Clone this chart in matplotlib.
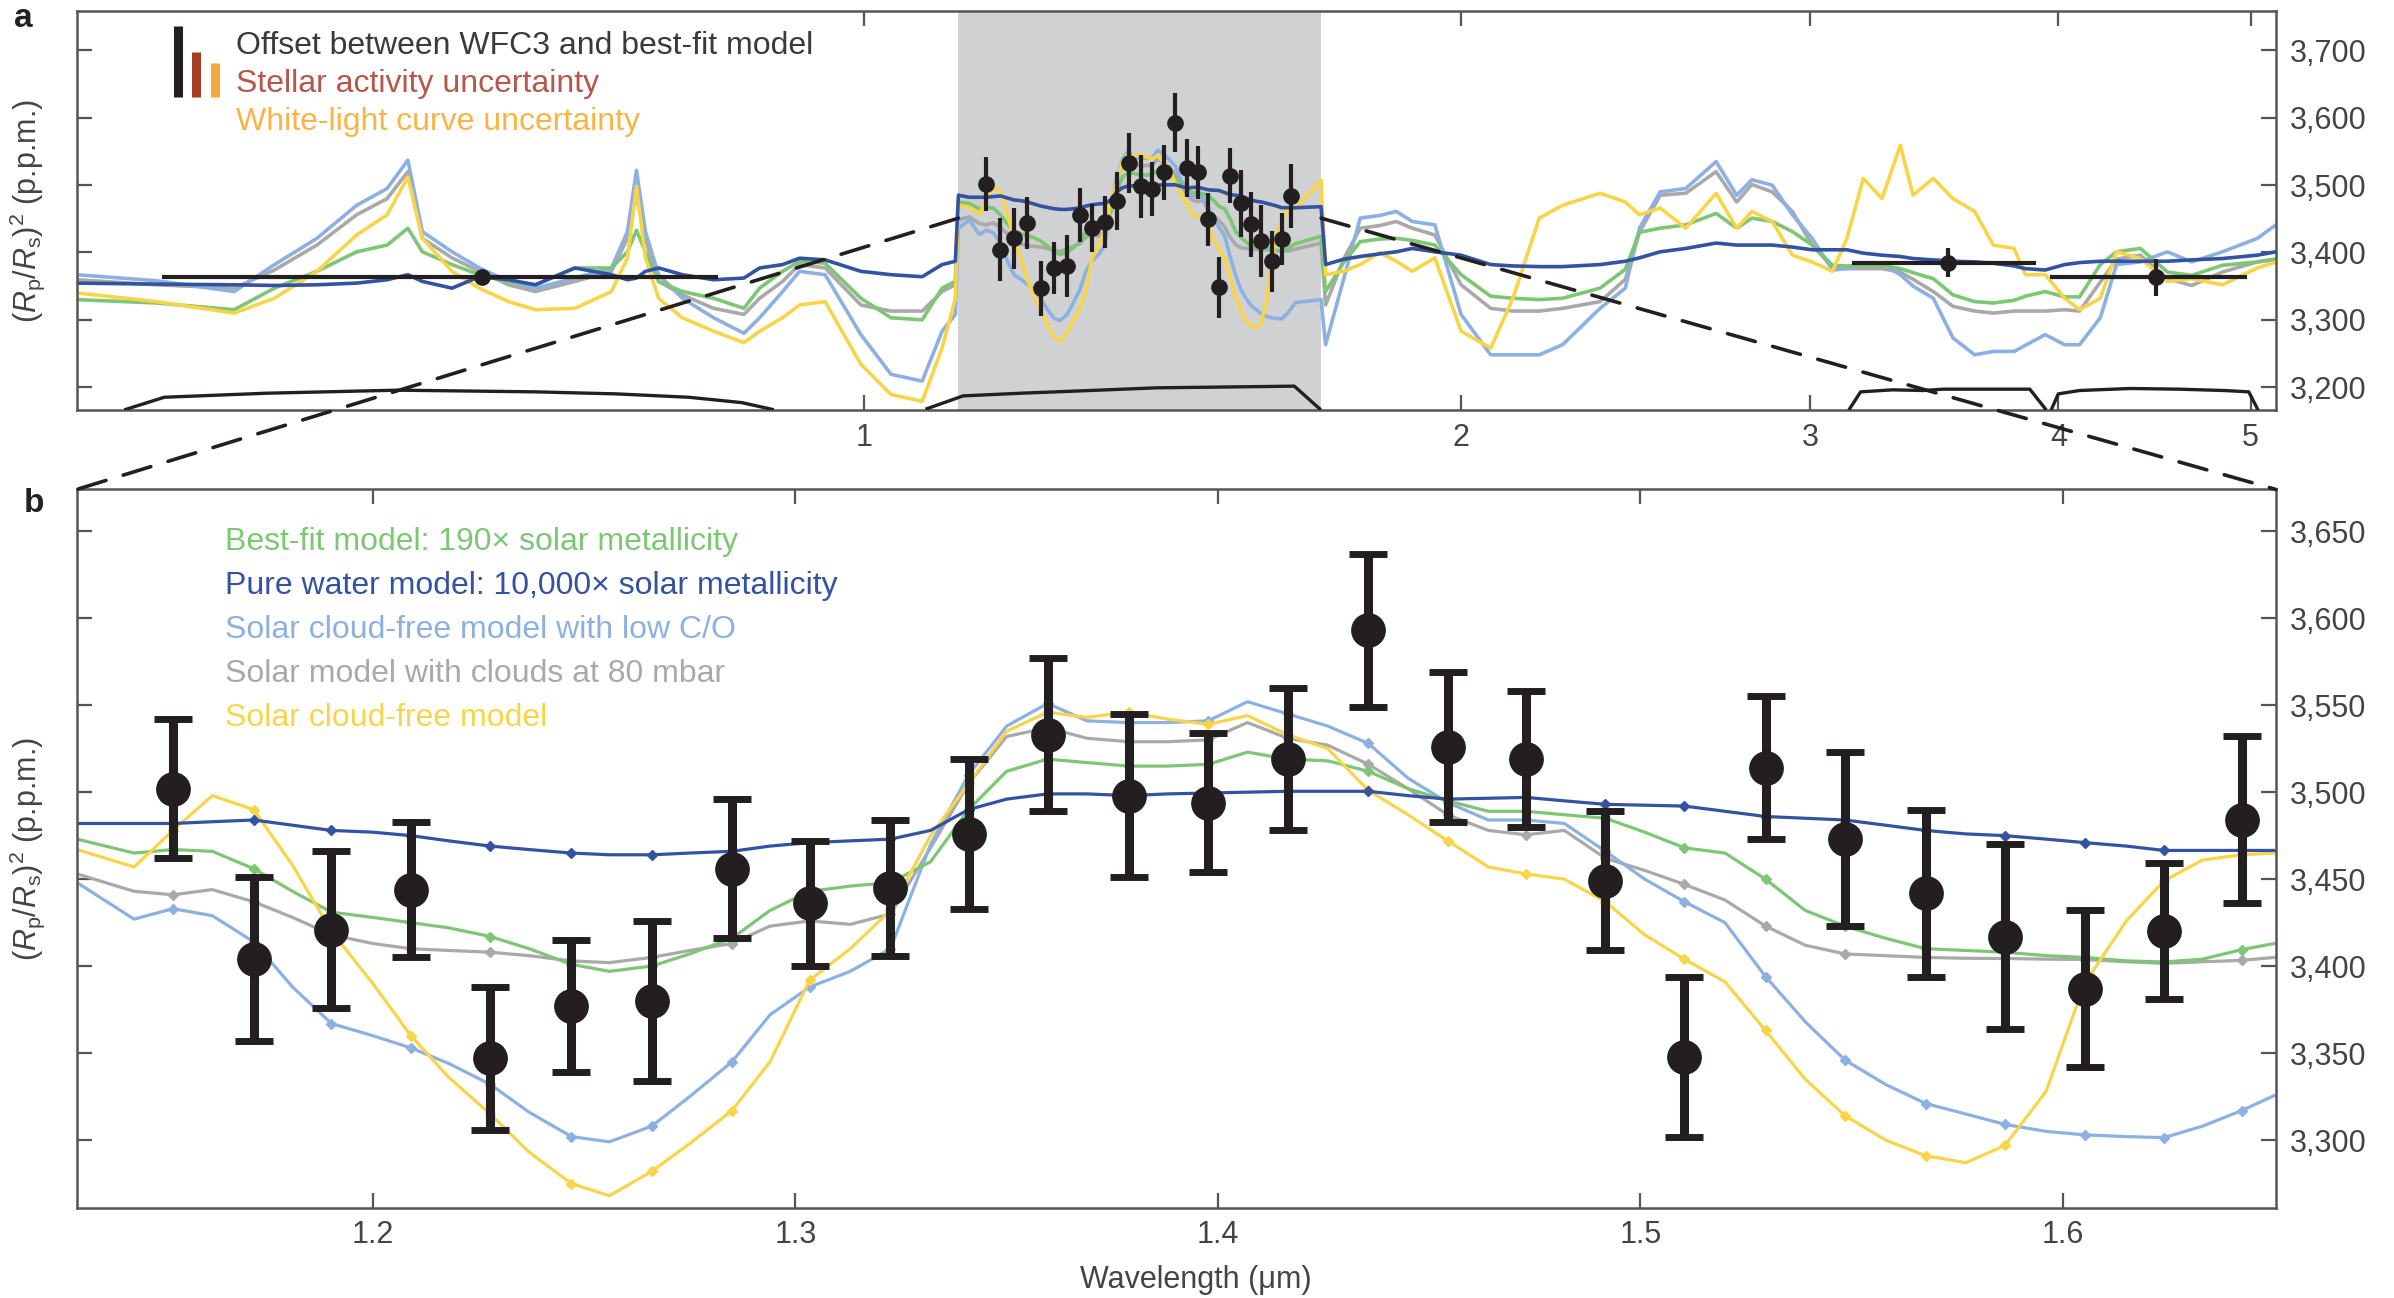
import numpy as np
import matplotlib
matplotlib.use('Agg')
import matplotlib.pyplot as plt
from matplotlib.patches import ConnectionPatch
from matplotlib.ticker import NullLocator

plt.rcParams['font.family'] = ['Liberation Sans', 'DejaVu Sans']
plt.rcParams['mathtext.fontset'] = 'custom'
plt.rcParams['mathtext.rm'] = 'Liberation Sans'
plt.rcParams['mathtext.it'] = 'Liberation Sans:italic'
plt.rcParams['mathtext.bf'] = 'Liberation Sans:bold'

# ---------------- data: WFC3 transmission spectrum ----------------
wfc3_lam = [1.1527, 1.1718, 1.1902, 1.2090, 1.2278, 1.2470, 1.2660, 1.2850, 1.3034,
            1.3225, 1.3410, 1.3597, 1.3789, 1.3977, 1.4165, 1.4356, 1.4544, 1.4729,
            1.4917, 1.5104, 1.5296, 1.5484, 1.5675, 1.5863, 1.6051, 1.6239, 1.6423]
wfc3_val = [3502, 3404, 3421, 3444, 3347, 3377, 3380, 3456, 3436, 3445, 3476, 3533,
            3498, 3494, 3519, 3593, 3526, 3519, 3449, 3348, 3514, 3473, 3442, 3417,
            3387, 3420, 3484]
wfc3_err = [40, 47, 45, 39, 41, 38, 46, 40, 36, 39, 43, 44, 47, 40, 41, 44, 43, 39,
            40, 46, 41, 50, 48, 53, 45, 39, 48]

# photometric points (STIS white light, Spitzer 3.6, Spitzer 4.5)
phot_lam = [0.642, 3.52, 4.48]
phot_val = [3364, 3385, 3363]
phot_err = [10, 22, 28]
phot_lo = [0.443, 3.15, 3.96]
phot_hi = [0.844, 3.90, 4.98]

# ---------------- models, zoomed panel (b) ----------------
mod_lam_b = [1.130, 1.1435, 1.1527, 1.162, 1.1718, 1.181, 1.1902, 1.200, 1.209, 1.218,
             1.2278, 1.237, 1.247, 1.256, 1.266, 1.275, 1.285, 1.294, 1.3034, 1.313,
             1.3225, 1.332, 1.341, 1.350, 1.3597, 1.369, 1.3789, 1.388, 1.3977, 1.407,
             1.4165, 1.426, 1.4356, 1.445, 1.4544, 1.464, 1.4729, 1.482, 1.4917, 1.501,
             1.5104, 1.520, 1.5296, 1.539, 1.5484, 1.558, 1.5675, 1.577, 1.5863, 1.596,
             1.6051, 1.615, 1.6239, 1.633, 1.6423, 1.650]
pw_b = [3482, 3482, 3482, 3483, 3484, 3481, 3478, 3477, 3475, 3472,
        3469, 3467, 3465, 3464, 3464, 3465, 3466, 3469, 3471, 3472,
        3473, 3478, 3490, 3496, 3499, 3499, 3498, 3499, 3499.5, 3500,
        3500.5, 3500.5, 3500.5, 3498, 3496, 3496.5, 3497, 3495, 3493, 3492.5,
        3492, 3489, 3486, 3485, 3484, 3481, 3478, 3476, 3475, 3473,
        3471, 3469, 3466.5, 3466.5, 3466.5, 3466.5]
bf_b = [3473, 3465, 3467, 3466, 3456, 3443, 3431, 3428, 3425, 3422,
        3417, 3410, 3401, 3397, 3400, 3407, 3416, 3432, 3443, 3446,
        3448, 3460, 3490, 3512, 3519, 3517, 3515, 3515, 3516, 3523,
        3519, 3518, 3512, 3502, 3495, 3489, 3489, 3487, 3485, 3477,
        3468, 3465, 3450, 3432, 3423, 3416, 3410, 3409, 3408, 3406,
        3405, 3403, 3402.4, 3404, 3409.5, 3413]
cl_b = [3453, 3443, 3441, 3444, 3437, 3428, 3418, 3413, 3410, 3409,
        3408, 3406, 3403, 3402, 3405, 3409, 3413, 3423, 3426, 3424,
        3430, 3468, 3505, 3532, 3537, 3531, 3529, 3529, 3530, 3540,
        3531, 3527, 3516, 3502, 3487, 3478, 3475.5, 3478, 3462, 3455,
        3447, 3438, 3423, 3412, 3407, 3406, 3405, 3404.5, 3404.4, 3404,
        3403.8, 3402.5, 3401.6, 3402.5, 3403.3, 3405]
lc_b = [3448, 3427, 3433, 3429, 3414, 3388, 3367, 3360, 3353, 3344,
        3332, 3316, 3302, 3299, 3308, 3325, 3345, 3372, 3388, 3397,
        3410, 3470, 3510, 3538, 3551, 3541, 3540, 3540, 3541, 3552,
        3545, 3538, 3528, 3508, 3494, 3484, 3484, 3482, 3466, 3450,
        3437, 3425, 3394, 3368, 3346, 3332, 3321, 3315, 3309, 3305,
        3303, 3302, 3301.4, 3308, 3317, 3325.6]
sf_b = [3467, 3457, 3478, 3498, 3490, 3458, 3420, 3390, 3360, 3336,
        3315, 3293, 3275, 3268, 3282, 3298, 3317, 3345, 3392, 3410,
        3432, 3475, 3505, 3535, 3546, 3543, 3546, 3542, 3539, 3544,
        3533, 3525, 3501, 3487, 3472, 3457, 3453, 3450, 3437, 3418,
        3404, 3391, 3363, 3335, 3314, 3300, 3291, 3287, 3297, 3328,
        3390, 3426, 3449, 3461, 3464, 3465]

# ---------------- models, full panel (a): blue side and red side ----------------
mod_lam_left = [0.401, 0.44, 0.4815, 0.5045, 0.53, 0.555, 0.575, 0.589, 0.599, 0.62,
                0.64, 0.662, 0.683, 0.715, 0.746, 0.76, 0.768, 0.776, 0.788, 0.81,
                0.84, 0.87, 0.886, 0.91, 0.928, 0.956, 0.9965, 1.032, 1.07, 1.095, 1.112]
pw_left = [3354.5, 3353, 3352, 3351, 3352, 3354.5, 3359.5, 3367, 3357, 3347, 3364,
           3359.5, 3352, 3377, 3367, 3359.5, 3362, 3372, 3377, 3367, 3359.5, 3362,
           3377, 3382, 3391.5, 3389, 3372, 3367, 3364, 3382, 3387]
bf_left = [3330, 3325, 3315, 3347, 3372, 3401, 3411, 3436, 3401, 3382, 3367, 3357,
           3352, 3377, 3377, 3401, 3433, 3401, 3357, 3342, 3332, 3317, 3347, 3372,
           3387, 3384, 3332, 3303, 3300, 3347, 3357]
cl_left = [3359.5, 3352, 3347, 3374, 3411, 3456, 3480, 3520, 3421, 3392, 3372, 3352,
           3342, 3357, 3372, 3421, 3485, 3421, 3357, 3337, 3317, 3308, 3332, 3357,
           3382, 3377, 3322, 3313, 3313, 3342, 3352]
lc_left = [3367, 3358, 3342, 3382, 3421, 3470, 3495, 3537, 3431, 3401, 3377, 3357,
           3347, 3362, 3377, 3431, 3522, 3431, 3367, 3332, 3303, 3280, 3303, 3342,
           3372, 3367, 3278, 3219, 3209, 3283, 3308]
sf_left = [3340, 3327, 3310, 3332, 3372, 3426, 3456, 3512, 3421, 3372, 3347, 3327,
           3315, 3317, 3342, 3392, 3498, 3392, 3332, 3303, 3283, 3266, 3283, 3303,
           3322, 3327, 3234, 3189, 3179, 3258, 3332]

# values at the edges of the WFC3 band (1.116 and 1.70 um): PW, BF, CL, LC, SF
edge_lam = [1.116, 1.70]
edge_lo = [3485, 3475, 3448, 3436, 3470]
edge_hi = [3468, 3424, 3414, 3330, 3507]

mod_lam_right = [1.709, 1.745, 1.779, 1.82, 1.855, 1.89, 1.94, 2.0, 2.07, 2.124,
                 2.19, 2.25, 2.35, 2.42, 2.46, 2.52, 2.596, 2.689, 2.754, 2.803,
                 2.87, 2.938, 3.006, 3.078, 3.13, 3.19, 3.26, 3.33, 3.38, 3.46,
                 3.54, 3.63, 3.71, 3.80, 3.85, 3.94, 4.03, 4.10, 4.20, 4.28,
                 4.40, 4.54, 4.67, 4.84, 5.04, 5.15]
pw_right = [3382, 3390, 3394, 3398, 3401, 3406, 3401, 3396, 3382, 3380,
            3379, 3379, 3382, 3387, 3392, 3401, 3406, 3414, 3411, 3411,
            3411, 3408, 3404, 3404, 3404, 3399, 3396, 3394, 3391, 3389,
            3387, 3386, 3384, 3380, 3376, 3374, 3382, 3385, 3387, 3387,
            3387, 3387, 3389, 3391, 3396, 3401]
bf_right = [3342, 3385, 3416, 3420, 3421, 3418, 3411, 3367, 3335, 3332,
            3330, 3332, 3347, 3375, 3430, 3436, 3441, 3458, 3436, 3451,
            3446, 3431, 3411, 3381, 3380, 3381, 3381, 3376, 3370, 3361,
            3337, 3327, 3325, 3329, 3335, 3342, 3334, 3334, 3382, 3401,
            3406, 3371, 3366, 3381, 3386, 3390]
cl_right = [3322, 3390, 3436, 3440, 3446, 3436, 3426, 3352, 3317, 3313,
            3313, 3317, 3327, 3360, 3430, 3485, 3488, 3520, 3475, 3501,
            3490, 3461, 3411, 3378, 3376, 3376, 3376, 3371, 3360, 3342,
            3320, 3313, 3310, 3313, 3313, 3313, 3315, 3313, 3356, 3390,
            3396, 3361, 3351, 3371, 3386, 3390]
lc_right = [3263, 3360, 3451, 3455, 3461, 3446, 3441, 3308, 3248, 3248,
            3248, 3263, 3317, 3347, 3436, 3490, 3495, 3535, 3485, 3508,
            3500, 3456, 3421, 3374, 3376, 3382, 3382, 3367, 3350, 3332,
            3273, 3248, 3253, 3253, 3262, 3278, 3263, 3263, 3303, 3382,
            3386, 3401, 3386, 3401, 3421, 3441]
sf_right = [3367, 3372, 3382, 3400, 3387, 3372, 3392, 3283, 3258, 3332,
            3451, 3470, 3488, 3475, 3456, 3466, 3436, 3488, 3436, 3461,
            3446, 3396, 3386, 3372, 3421, 3510, 3480, 3559, 3485, 3510,
            3480, 3461, 3411, 3406, 3367, 3367, 3332, 3315, 3332, 3401,
            3391, 3357, 3361, 3352, 3377, 3386]

# instrument bandpass curves drawn at the bottom of panel a
stis_lam = [0.4246, 0.444, 0.50, 0.582, 0.683, 0.75, 0.816, 0.868, 0.899]
stis_val = [3167, 3185, 3191, 3195.5, 3193, 3190, 3185, 3177, 3167]
g141_lam = [1.076, 1.122, 1.20, 1.30, 1.405, 1.50, 1.60, 1.648, 1.697]
g141_val = [3168, 3187, 3191, 3195, 3199, 3200, 3201, 3201.5, 3168]
ch1_lam = [3.14, 3.18, 3.30, 3.42, 3.50, 3.70, 3.87, 3.94]
ch1_val = [3168, 3193, 3196, 3195, 3197, 3197, 3197, 3168]
ch2_lam = [3.97, 4.00, 4.10, 4.35, 4.60, 4.85, 4.99, 5.04]
ch2_val = [3168, 3190, 3195, 3198, 3197, 3195, 3193, 3168]

# legend bars (ppm) of panel a
bar_lam = [0.451, 0.4606, 0.4708]
bar_base = 3631
bar_height = [106, 67, 50]

# axes ticks
a_xticks = [1, 2, 3, 4, 5]
a_xticklabels = ['1', '2', '3', '4', '5']
a_yticks = [3200, 3300, 3400, 3500, 3600, 3700]
a_yticklabels = ['3,200', '3,300', '3,400', '3,500', '3,600', '3,700']
b_xticks = [1.2, 1.3, 1.4, 1.5, 1.6]
b_xticklabels = ['1.2', '1.3', '1.4', '1.5', '1.6']
b_yticks = [3300, 3350, 3400, 3450, 3500, 3550, 3600, 3650]
b_yticklabels = ['3,300', '3,350', '3,400', '3,450', '3,500', '3,550', '3,600', '3,650']

# ---------------- styles ----------------
C_PW = '#3452a2'
C_BF = '#7dc673'
C_LC = '#8db0e2'
C_CL = '#a9a9a9'
C_SF = '#f8d548'
C_DATA = '#231f20'
C_SPINE = '#555555'
C_TICK = '#444444'

models_b = [  # drawing order
    ('Solar model with clouds at 80 mbar', cl_b, C_CL),
    ('Solar cloud-free model with low C/O', lc_b, C_LC),
    ('Best-fit model: 190\u00d7 solar metallicity', bf_b, C_BF),
    ('Solar cloud-free model', sf_b, C_SF),
    ('Pure water model: 10,000\u00d7 solar metallicity', pw_b, C_PW),
]
models_a = [
    (cl_left, 2, cl_b, cl_right, C_CL),
    (lc_left, 3, lc_b, lc_right, C_LC),
    (bf_left, 1, bf_b, bf_right, C_BF),
    (sf_left, 4, sf_b, sf_right, C_SF),
    (pw_left, 0, pw_b, pw_right, C_PW),
]

fig = plt.figure(figsize=(23.94, 12.98), dpi=100)
ax1 = fig.add_axes([0.032, 0.6841, 0.9187, 0.3071])
ax2 = fig.add_axes([0.032, 0.0694, 0.9187, 0.5535])

# ---------------- panel a ----------------
ax1.set_xscale('log')
ax1.axvspan(1.116, 1.70, color='#cfd1d3', lw=0, zorder=0)
for left, k, mid, right, col in models_a:
    lam = np.concatenate([mod_lam_left, [edge_lam[0]], mod_lam_b, [edge_lam[1]], mod_lam_right])
    val = np.concatenate([left, [edge_lo[k]], mid, [edge_hi[k]], right])
    ax1.plot(lam, val, color=col, lw=2.6, zorder=2, solid_joinstyle='round')

for bl, bv in ((stis_lam, stis_val), (g141_lam, g141_val), (ch1_lam, ch1_val), (ch2_lam, ch2_val)):
    ax1.plot(bl, bv, color=C_DATA, lw=2.4, zorder=3)

ax1.errorbar(wfc3_lam, wfc3_val, yerr=wfc3_err, fmt='o', color=C_DATA, ms=11,
             elinewidth=3.0, capsize=0, zorder=5)
plam = np.array(phot_lam)
xerr = [plam - np.array(phot_lo), np.array(phot_hi) - plam]
ax1.errorbar(phot_lam, phot_val, yerr=phot_err, xerr=xerr, fmt='o', color=C_DATA,
             ms=11, elinewidth=3.0, capsize=0, zorder=5)

ax1.vlines(bar_lam, bar_base, np.array(bar_height) + bar_base,
           colors=[C_DATA, '#a63c22', '#f5a93a'], lw=6.5, zorder=4)
leg_a = [('Offset between WFC3 and best-fit model', '#3a3a3a'),
         ('Stellar activity uncertainty', '#b5574a'),
         ('White-light curve uncertainty', '#f9b447')]
for i, (t, c) in enumerate(leg_a):
    ax1.text(0.0724, 0.913 - i * 0.0958, t, color=c, fontsize=23,
             transform=ax1.transAxes, ha='left', va='center')

ax1.set_xlim(0.401, 5.15)
ax1.set_ylim(3166, 3758)
ax1.xaxis.set_minor_locator(NullLocator())
ax1.set_xticks(a_xticks)
ax1.set_xticklabels(a_xticklabels)
ax1.set_yticks(a_yticks)
ax1.set_yticklabels(a_yticklabels)

# ---------------- panel b ----------------
for lab, vals, col in models_b:
    ax2.plot(mod_lam_b, vals, color=col, lw=2.3, zorder=2,
             marker='D', ms=5, markevery=slice(2, 55, 2))
ax2.errorbar(wfc3_lam, wfc3_val, yerr=wfc3_err, fmt='o', color=C_DATA, ms=24,
             elinewidth=6.5, capsize=13.5, capthick=5, zorder=5)

leg_b = [('Best-fit model: 190\u00d7 solar metallicity', C_BF),
         ('Pure water model: 10,000\u00d7 solar metallicity', C_PW),
         ('Solar cloud-free model with low C/O', C_LC),
         ('Solar model with clouds at 80 mbar', C_CL),
         ('Solar cloud-free model', C_SF)]
for i, (t, c) in enumerate(leg_b):
    ax2.text(0.0676, 0.927 - i * 0.0611, t, color=c, fontsize=23,
             transform=ax2.transAxes, ha='left', va='center')

ax2.set_xlim(1.1299, 1.6504)
ax2.set_ylim(3261, 3674)
ax2.set_xticks(b_xticks)
ax2.set_xticklabels(b_xticklabels)
ax2.set_yticks(b_yticks)
ax2.set_yticklabels(b_yticklabels)

for ax in (ax1, ax2):
    ax.tick_params(axis='both', which='major', direction='in', length=11, width=1.6,
                   color=C_SPINE, labelsize=22, labelcolor=C_TICK)
    ax.tick_params(axis='y', left=True, right=True, labelleft=False, labelright=True, pad=10)
    ax.tick_params(axis='x', top=True, bottom=True, pad=9)
    for s in ax.spines.values():
        s.set_color(C_SPINE)
        s.set_linewidth(1.8)

# zoom connectors
for xa, xb in ((1.116, 0), (1.70, 1)):
    con = ConnectionPatch(xyA=(xa, 3451), coordsA=ax1.transData,
                          xyB=(xb, 1), coordsB=ax2.transAxes,
                          color=C_DATA, lw=2.6, linestyle=(0, (8, 5)), zorder=6)
    fig.add_artist(con)

ylab = r'$(R_{\mathrm{p}}/R_{\mathrm{s}})^2$ (p.p.m.)'
fig.text(0.0115, 0.8377, ylab, rotation=90, ha='center', va='center', fontsize=22, color=C_TICK)
fig.text(0.0115, 0.3462, ylab, rotation=90, ha='center', va='center', fontsize=22, color=C_TICK)
fig.text(0.4994, 0.0141, 'Wavelength (\u03bcm)', ha='center', va='center', fontsize=22, color=C_TICK)
fig.text(0.0096, 0.986, 'a', ha='center', va='center', fontsize=24, fontweight='bold', color='#222222')
fig.text(0.014, 0.612, 'b', ha='center', va='center', fontsize=24, fontweight='bold', color='#222222')

fig.savefig('out.png', dpi=100)
